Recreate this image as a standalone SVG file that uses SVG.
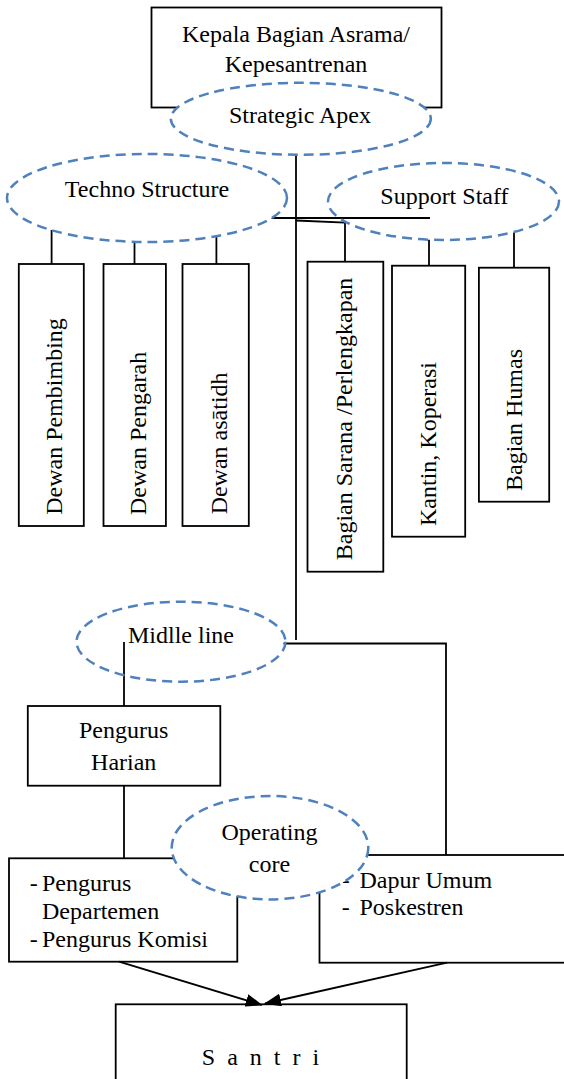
<svg xmlns="http://www.w3.org/2000/svg" width="564" height="1079" viewBox="0 0 564 1079">
<defs>
<style>
.box{fill:#fff;stroke:#000;stroke-width:1.8}
.ell{fill:#fff;stroke:#4F81BD;stroke-width:2.5;stroke-dasharray:10 6}
.open{fill:none}
.ln{fill:none;stroke:#000;stroke-width:1.8}
text{font-family:"Liberation Serif","Times New Roman",serif;font-size:24px;fill:#000}
.c{text-anchor:middle}
</style>
<marker id="arr" markerUnits="userSpaceOnUse" markerWidth="17" markerHeight="13" refX="16" refY="6.5" orient="auto">
<path d="M0,0 L17,6.5 L0,13 z" fill="#000"/>
</marker>
</defs>
<rect width="564" height="1079" fill="#fff"/>

<g id="kepala"><rect class="box" x="151.5" y="7.5" width="290" height="100"/>
<text class="c" x="296" y="41.7">Kepala Bagian Asrama/</text>
<text class="c" x="296" y="71.7">Kepesantrenan</text></g>

<g id="dewan-pembimbing"><rect class="box" x="18.8" y="264" width="65" height="262"/>
<text class="c" transform="translate(62,416.5) rotate(-90)">Dewan Pembimbing</text></g>
<g id="dewan-pengarah"><rect class="box" x="103.5" y="264" width="62.4" height="262"/>
<text class="c" transform="translate(146,433.4) rotate(-90)">Dewan Pengarah</text></g>
<g id="dewan-asatidh"><rect class="box" x="182.5" y="264" width="66.3" height="262"/>
<text class="c" transform="translate(226.5,443.4) rotate(-90)">Dewan asātidh</text></g>
<g id="bagian-sarana"><rect class="box" x="307.5" y="261.7" width="75.8" height="310"/>
<text class="c" transform="translate(351.6,419) rotate(-90)">Bagian Sarana /Perlengkapan</text></g>
<g id="kantin"><rect class="box" x="392" y="265.7" width="73.2" height="271"/>
<text class="c" transform="translate(436.3,444) rotate(-90)">Kantin, Koperasi</text></g>
<g id="humas"><rect class="box" x="478.9" y="267.7" width="70.3" height="234"/>
<text class="c" transform="translate(522,420) rotate(-90)">Bagian Humas</text></g>

<g id="pengurus-harian"><rect class="box" x="27.8" y="706" width="192.5" height="79.7"/>
<text class="c" x="123.7" y="738.3">Pengurus</text>
<text class="c" x="123.7" y="770">Harian</text></g>

<g id="pengurus-departemen"><rect class="box" x="9" y="858.3" width="228.3" height="103.4"/>
<text x="29.7" y="890.7">-</text><text x="42" y="890.7">Pengurus</text>
<text x="42" y="919">Departemen</text>
<text x="29.7" y="946.7">-</text><text x="42" y="946.7">Pengurus Komisi</text></g>

<g id="dapur-umum"><rect class="box" x="319.5" y="855" width="260" height="107.7"/>
<text x="341.7" y="888.3">-</text><text x="359.5" y="888.3">Dapur Umum</text>
<text x="341.7" y="915">-</text><text x="359.5" y="915">Poskestren</text></g>

<g id="santri"><rect class="box" x="115.7" y="1004.3" width="291" height="90"/>
<text class="c" x="262" y="1065" style="letter-spacing:3px">S a n t r i</text></g>

<g id="connectors">
<path class="ln" d="M296,155 V640"/>
<path class="ln" d="M271.5,218 H430"/>
<path class="ln" d="M296,220.5 L345,222.7 V261.7"/>
<path class="ln" d="M51.6,230 V264"/>
<path class="ln" d="M134.5,241.5 V264"/>
<path class="ln" d="M216.4,236 V264"/>
<path class="ln" d="M429,239.7 V265.7"/>
<path class="ln" d="M514,232.5 V267.7"/>
<path class="ln" d="M124,642 V706"/>
<path class="ln" d="M124,785.7 V858.3"/>
<path class="ln" d="M283.5,643.5 H446 V855"/>
<path class="ln" d="M119,961.7 L261.7,1005" marker-end="url(#arr)"/>
<path class="ln" d="M447,962.7 L265,1003.5" marker-end="url(#arr)"/>
</g>

<g id="strategic-apex"><ellipse class="ell" cx="300.8" cy="118.8" rx="130" ry="36"/>
<text class="c" x="300" y="123">Strategic Apex</text></g>
<g id="techno-structure"><ellipse class="ell" cx="147" cy="198" rx="140" ry="44"/>
<text class="c" x="147" y="196.7">Techno Structure</text></g>
<g id="support-staff"><ellipse class="ell open" cx="443.5" cy="201.5" rx="115.5" ry="38.5"/>
<text class="c" x="444.4" y="204">Support Staff</text></g>
<g id="middle-line"><ellipse class="ell open" cx="181" cy="641.7" rx="104.5" ry="40"/>
<text class="c" x="181" y="643.3">Midlle line</text></g>
<g id="operating-core"><ellipse class="ell" cx="270" cy="847.7" rx="98.3" ry="51.7"/>
<text class="c" x="269.5" y="840">Operating</text>
<text class="c" x="269.5" y="871.7">core</text></g>
</svg>
